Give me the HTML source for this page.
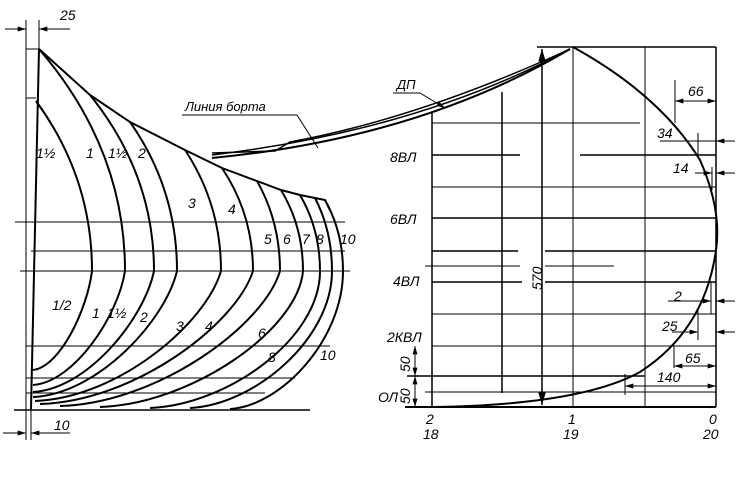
<!DOCTYPE html>
<html><head><meta charset="utf-8"><style>
html,body{margin:0;padding:0;background:#fff;}
svg{display:block;}
text{font-family:"Liberation Sans","DejaVu Sans",sans-serif;font-style:italic;fill:#000;}
</style></head><body>
<svg width="750" height="482" viewBox="0 0 750 482" xmlns="http://www.w3.org/2000/svg">
<defs>
<marker id="a" viewBox="0 0 10 6" refX="10" refY="3" markerWidth="9" markerHeight="5" orient="auto-start-reverse"><path d="M0,0L10,3L0,6z" fill="#000"/></marker>
</defs>
<g stroke="#000" fill="none">
<line x1="26" y1="20" x2="26" y2="440" stroke-width="1"/>
<line x1="31" y1="400" x2="31" y2="440" stroke-width="1"/>
<line x1="39" y1="20" x2="39" y2="49" stroke-width="1"/>
<line x1="26" y1="49" x2="39" y2="49" stroke-width="1"/>
<line x1="26" y1="98" x2="36" y2="98" stroke-width="1"/>
<line x1="5" y1="29" x2="26" y2="29" marker-end="url(#a)" stroke-width="1"/>
<line x1="70" y1="29" x2="39" y2="29" marker-end="url(#a)" stroke-width="1"/>
<line x1="3" y1="433" x2="26" y2="433" marker-end="url(#a)" stroke-width="1"/>
<line x1="70" y1="433" x2="31" y2="433" marker-end="url(#a)" stroke-width="1"/>
<line x1="15" y1="222" x2="345" y2="222" stroke-width="1"/>
<line x1="31" y1="251" x2="345" y2="251" stroke-width="1"/>
<line x1="20" y1="271" x2="350" y2="271" stroke-width="1"/>
<line x1="26" y1="346" x2="330" y2="346" stroke-width="1"/>
<line x1="26" y1="378" x2="295" y2="378" stroke-width="1"/>
<line x1="26" y1="393" x2="265" y2="393" stroke-width="1"/>
<line x1="14" y1="410" x2="310" y2="410" stroke-width="1.5"/>
<path d="M39,49 L31,409" stroke-width="2"/>
<path d="M39,49 L90,95 L130,122 L185,150 L222,168 L257,181 L281,190 L300,195 L315,198 L325,200 L330,210" stroke-width="2"/>
<g stroke-width="2">
<path d="M36,101 Q92,177.5 92,271 C87,310.6 59.6,367 33,370"/>
<path d="M39,49 Q125,148.9 125,271 C118,316 74.4,382 33,385"/>
<path d="M90,95 Q154,174.2 154,271 C144,319 87.5,389 33,392"/>
<path d="M130,122 Q177,189 177,271 C165,321 97.8,394 33,397"/>
<path d="M185,150 Q221,204.5 221,271 C206,323 118.7,398 35,401"/>
<path d="M222,168 Q253,214.4 253,271 C236,324 135.9,401 40,404"/>
<path d="M257,181 Q280,221.5 280,271 C264,325 159,403 60,406"/>
<path d="M281,190 Q303,226.5 303,271 C298,330 191.4,404 100,407"/>
<path d="M300,195 Q320,229.2 320,271 C320,339.5 226.5,405 150,408"/>
<path d="M315,198 Q332,230.9 332,271 C332,339.5 253.9,405 190,408"/>
<path d="M325,200 Q343,232 343,271 C343,340 280.9,406 230,409"/>
</g>
<path d="M212,153 L275,151 L290,142 Q420,118 570,49" stroke-width="1.5"/>
<path d="M212,155 Q420,130 570,49" stroke-width="1.5"/>
<path d="M212,158 Q420,138 570,49" stroke-width="2"/>
<line x1="182" y1="115" x2="297" y2="115" stroke-width="1"/>
<line x1="297" y1="115" x2="318" y2="148" stroke-width="1"/>
<line x1="393" y1="93" x2="420" y2="93" stroke-width="1"/>
<line x1="420" y1="93" x2="445" y2="108" marker-end="url(#a)" stroke-width="1"/>
<line x1="537" y1="47" x2="716" y2="47" stroke-width="1.5"/>
<line x1="432" y1="112" x2="432" y2="407" stroke-width="1.5"/>
<line x1="502" y1="92" x2="502" y2="393" stroke-width="1.5"/>
<line x1="542" y1="49" x2="542" y2="405" stroke-width="1.5" marker-start="url(#a)" marker-end="url(#a)"/>
<line x1="573" y1="47" x2="573" y2="407" stroke-width="1"/>
<line x1="645" y1="47" x2="645" y2="407" stroke-width="1"/>
<line x1="716" y1="47" x2="716" y2="407" stroke-width="1.5"/>
<line x1="432" y1="123" x2="640" y2="123" stroke-width="1"/>
<line x1="432" y1="155" x2="520" y2="155" stroke-width="1.5"/>
<line x1="580" y1="155" x2="716" y2="155" stroke-width="1.5"/>
<line x1="432" y1="187" x2="716" y2="187" stroke-width="1"/>
<line x1="432" y1="218" x2="716" y2="218" stroke-width="1.5"/>
<line x1="432" y1="251" x2="518" y2="251" stroke-width="1.5"/>
<line x1="545" y1="251" x2="716" y2="251" stroke-width="1.5"/>
<line x1="425" y1="266" x2="520" y2="266" stroke-width="1"/>
<line x1="545" y1="266" x2="614" y2="266" stroke-width="1"/>
<line x1="432" y1="282" x2="522" y2="282" stroke-width="1.5"/>
<line x1="545" y1="282" x2="716" y2="282" stroke-width="1.5"/>
<line x1="432" y1="314" x2="716" y2="314" stroke-width="1"/>
<line x1="432" y1="346" x2="716" y2="346" stroke-width="1"/>
<line x1="407" y1="376" x2="645" y2="376" stroke-width="1.5"/>
<line x1="425" y1="392" x2="716" y2="392" stroke-width="1"/>
<line x1="405" y1="407" x2="716" y2="407" stroke-width="2"/>
<line x1="415" y1="346" x2="415" y2="376" stroke-width="1" marker-start="url(#a)" marker-end="url(#a)"/>
<line x1="415" y1="376" x2="415" y2="407" stroke-width="1" marker-start="url(#a)" marker-end="url(#a)"/>
<path d="M573,47 Q660,95 700,160 Q722,210 716,250 Q705,330 640,372 Q580,405 432,407" stroke-width="2"/>
<line x1="675" y1="80" x2="675" y2="123" stroke-width="1"/>
<line x1="675" y1="101" x2="716" y2="101" stroke-width="1" marker-start="url(#a)" marker-end="url(#a)"/>
<line x1="698" y1="133" x2="698" y2="155" stroke-width="1"/>
<line x1="660" y1="141" x2="735" y2="141" stroke-width="1"/>
<line x1="735" y1="141" x2="716" y2="141" stroke-width="1" marker-end="url(#a)"/>
<line x1="712" y1="167" x2="712" y2="190" stroke-width="1"/>
<line x1="695" y1="173" x2="712" y2="173" stroke-width="1" marker-end="url(#a)"/>
<line x1="735" y1="173" x2="716" y2="173" stroke-width="1" marker-end="url(#a)"/>
<line x1="711" y1="282" x2="711" y2="314" stroke-width="1"/>
<line x1="668" y1="301" x2="711" y2="301" stroke-width="1" marker-end="url(#a)"/>
<line x1="735" y1="301" x2="716" y2="301" stroke-width="1" marker-end="url(#a)"/>
<line x1="698" y1="310" x2="698" y2="340" stroke-width="1"/>
<line x1="672" y1="332" x2="698" y2="332" stroke-width="1" marker-end="url(#a)"/>
<line x1="735" y1="332" x2="716" y2="332" stroke-width="1" marker-end="url(#a)"/>
<line x1="674" y1="346" x2="674" y2="368" stroke-width="1"/>
<line x1="674" y1="366" x2="716" y2="366" stroke-width="1" marker-start="url(#a)" marker-end="url(#a)"/>
<line x1="625" y1="374" x2="625" y2="395" stroke-width="1"/>
<line x1="625" y1="386" x2="716" y2="386" stroke-width="1" marker-start="url(#a)" marker-end="url(#a)"/>
</g>
<g font-size="14">
<text x="60" y="20">25</text>
<text x="54" y="430">10</text>
<text x="185" y="111" font-size="13">Линия борта</text>
<text x="397" y="89" font-size="13">ДП</text>
<text x="36" y="158">1½</text>
<text x="86" y="158">1</text>
<text x="108" y="158">1½</text>
<text x="138" y="158">2</text>
<text x="188" y="208">3</text>
<text x="228" y="214">4</text>
<text x="264" y="244">5</text>
<text x="283" y="244">6</text>
<text x="302" y="244">7</text>
<text x="316" y="244">8</text>
<text x="340" y="244">10</text>
<text x="52" y="310">1/2</text>
<text x="92" y="318">1</text>
<text x="107" y="318">1½</text>
<text x="140" y="322">2</text>
<text x="176" y="331">3</text>
<text x="205" y="331">4</text>
<text x="258" y="338">6</text>
<text x="268" y="362">8</text>
<text x="320" y="360">10</text>
<text x="390" y="162">8ВЛ</text>
<text x="390" y="224">6ВЛ</text>
<text x="393" y="286">4ВЛ</text>
<text x="387" y="342">2КВЛ</text>
<text x="378" y="402">ОЛ</text>
<text transform="translate(410,372) rotate(-90)">50</text>
<text transform="translate(410,404) rotate(-90)">50</text>
<text transform="translate(542,290) rotate(-90)">570</text>
<text x="426" y="424">2</text><text x="423" y="439">18</text>
<text x="568" y="424">1</text><text x="563" y="439">19</text>
<text x="709" y="424">0</text><text x="703" y="439">20</text>
<text x="688" y="96">66</text>
<text x="657" y="138">34</text>
<text x="673" y="173">14</text>
<text x="674" y="301">2</text>
<text x="662" y="331">25</text>
<text x="685" y="363">65</text>
<text x="657" y="382">140</text>
</g>
</svg>
</body></html>
